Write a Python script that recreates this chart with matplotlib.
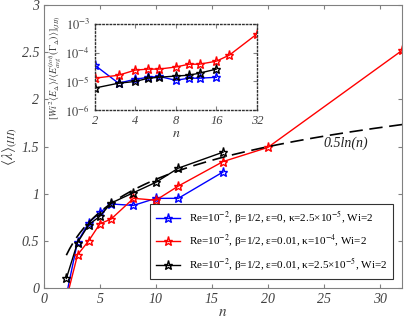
import matplotlib
matplotlib.use("Agg")
import matplotlib.pyplot as plt
import numpy as np

plt.rcParams["font.family"] = ["Liberation Serif", "DejaVu Serif"]
plt.rcParams["mathtext.fontset"] = "stix"

# main panel data
n_blue = [2, 3, 4, 5, 6, 8, 10, 12, 16]
lam_blue = [-0.08, 0.49, 0.69, 0.80, 0.89, 0.875, 0.95, 0.95, 1.23]
n_red = [2, 3, 4, 5, 6, 8, 10, 12, 16, 20, 32]
lam_red = [-0.12, 0.35, 0.50, 0.68, 0.73, 0.95, 0.93, 1.08, 1.34, 1.49, 2.52]
n_black = [2, 3, 4, 5, 6, 8, 10, 12, 16]
lam_black = [0.10, 0.48, 0.67, 0.76, 0.90, 1.01, 1.12, 1.27, 1.44]

# inset data
ins_blue = [3.7e-5, 8.7e-6, 1.2e-5, 1.4e-5, 1.5e-5, 1.1e-5, 1.3e-5, 1.3e-5, 1.4e-5]
ins_red = [1.3e-5, 1.65e-5, 2.5e-5, 2.7e-5, 2.7e-5, 3.2e-5, 4.0e-5, 4.0e-5, 5.1e-5, 8.3e-5, 4.5e-4]
ins_black = [5.9e-6, 8.7e-6, 1.0e-5, 1.3e-5, 1.4e-5, 1.55e-5, 1.65e-5, 1.95e-5, 2.7e-5]

labels = [
    r"Re=10$^{-2}$, β=1/2, ε=0, κ=2.5×10$^{-5}$, Wi=2",
    r"Re=10$^{-2}$, β=1/2, ε=0.01, κ=10$^{-4}$, Wi=2",
    r"Re=10$^{-2}$, β=1/2, ε=0.01, κ=2.5×10$^{-5}$, Wi=2",
]
colors = ["#0000ff", "#ff0000", "#000000"]
frame_color = "#808080"
tick_color = "#404040"

fig = plt.figure(figsize=(4.07, 3.22), dpi=100)
ax = fig.add_axes([0.108, 0.106, 0.880, 0.878])

series = [(n_blue, lam_blue), (n_red, lam_red), (n_black, lam_black)]
for (xs, ys), c, lab in zip(series, colors, labels):
    ax.plot(xs, ys, "-", color=c, marker="*", ms=6.5, mfc="none", mew=1.0, lw=1.0, label=lab)

n_fit = np.linspace(2, 32, 200)
ax.plot(n_fit, 0.5 * np.log(n_fit), "--", color="black", lw=1.2, dashes=(8, 4))
ax.text(25.0, 1.50, "0.5ln(n)", style="italic", fontsize=10, color="#202020")

ax.set_xlim(0, 32)
ax.set_ylim(0, 3)
ax.set_xticks([0, 5, 10, 15, 20, 25, 30])
ax.set_yticks([0, 0.5, 1, 1.5, 2, 2.5, 3])
ax.set_yticklabels(["0", "0.5", "1", "1.5", "2", "2.5", "3"])
ax.tick_params(direction="in", top=True, right=True, length=3, color=frame_color,
               labelcolor=tick_color, labelsize=10)
for lbl in ax.get_xticklabels() + ax.get_yticklabels():
    lbl.set_style("italic")
for sp in ax.spines.values():
    sp.set_color(frame_color)
ax.set_xlabel("$n$", fontsize=11, labelpad=0, color=tick_color)
ax.set_ylabel(r"$\langle\lambda\rangle_{(III)}$", fontsize=11, labelpad=2, color=tick_color)

leg = ax.legend(loc="lower right", fontsize=8, frameon=True, fancybox=False,
                handlelength=2.2, borderpad=0.5, labelspacing=0.6,
                bbox_to_anchor=(0.99, 0.012))
leg.get_frame().set_edgecolor("black")
leg.get_frame().set_linewidth(0.8)

# inset
ins = fig.add_axes([0.233, 0.658, 0.398, 0.267])
ins_series = [(n_blue, ins_blue), (n_red, ins_red), (n_black, ins_black)]
for (xs, ys), c in zip(ins_series, colors):
    ins.plot(xs, ys, "-", color=c, marker="*", ms=6.5, mfc="none", mew=1.0, lw=1.0)
ins.set_xscale("log", base=2)
ins.set_yscale("log")
ins.set_xlim(2, 32)
ins.set_ylim(1e-6, 1e-3)
ins.set_xticks([2, 4, 8, 16, 32])
ins.set_xticklabels(["2", "4", "8", "16", "32"])
ins.set_yticks([1e-6, 1e-5, 1e-4, 1e-3])
ins.set_yticklabels([r"$10^{-6}$", r"$10^{-5}$", r"$10^{-4}$", r"$10^{-3}$"])
ins.minorticks_off()
ins.tick_params(direction="in", top=True, right=True, length=3, color=frame_color,
                labelcolor=tick_color, labelsize=9)
for lbl in ins.get_xticklabels() + ins.get_yticklabels():
    lbl.set_style("italic")
for sp in ins.spines.values():
    sp.set_color("#303030")
    sp.set_linestyle(":")
    sp.set_linewidth(1.0)
ins.set_xlabel("$n$", fontsize=10, labelpad=0, color=tick_color)
ins.set_ylabel(r"$[Wi^2\langle E_\Delta\rangle/\langle E^{(tot)}_{avg}(\Gamma_\Delta)\rangle]_{(III)}$",
               fontsize=7.2, labelpad=1, color=tick_color)

fig.savefig("out.png", dpi=100)
